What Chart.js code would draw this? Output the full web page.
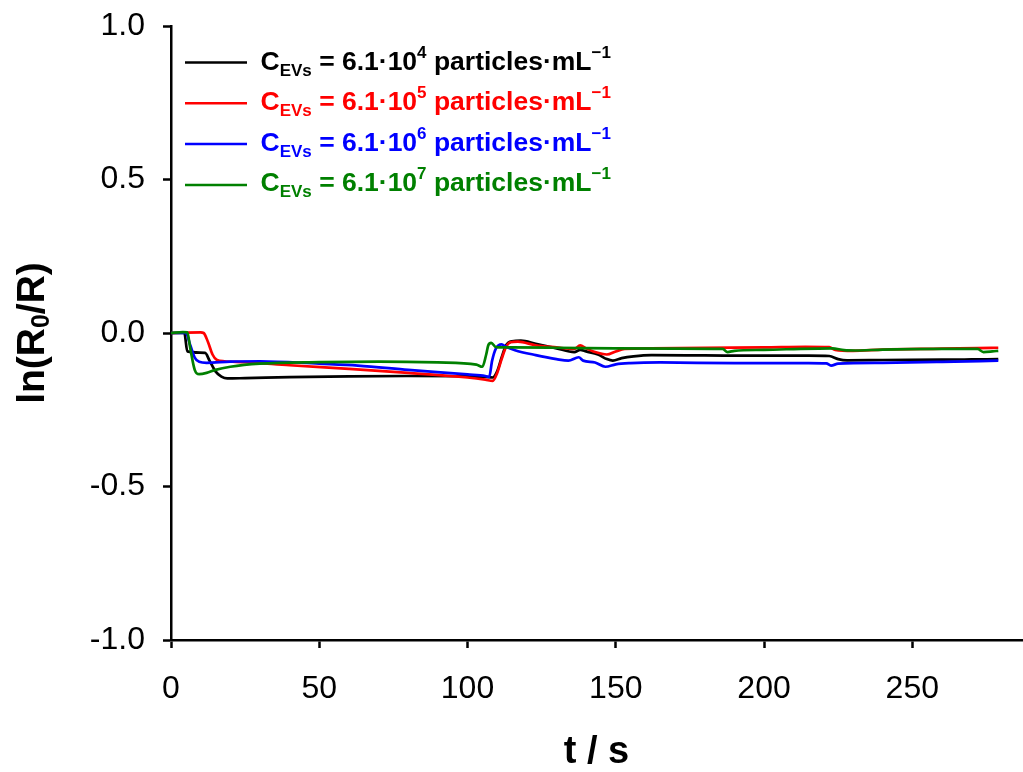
<!DOCTYPE html>
<html>
<head>
<meta charset="utf-8">
<script src="https://cdn.jsdelivr.net/npm/chart.js@4.4.1/dist/chart.umd.min.js"></script>
<style>
  html, body { margin: 0; padding: 0; background: #fff; }
</style>
</head>
<body>
<canvas id="responseChart" width="1023" height="772"></canvas>
<script>
const FONT = '"Liberation Sans", Arial, Helvetica, sans-serif';

// series colours and concentration exponents (6.1·10^n particles/mL)
const seriesColors = ['#000000', '#ff0000', '#0000ff', '#008000'];
const concExponents = ['4', '5', '6', '7'];

const xTicks = [0, 50, 100, 150, 200, 250];
const yTicks = [-1.0, -0.5, 0.0, 0.5, 1.0];

// 10^4
const tBlack = [0, 4.5, 5.5, 11.5, 13, 15, 17, 19, 25, 40, 60, 80, 100, 106, 108.5, 110, 111.5, 113, 115, 118, 123, 130, 136, 138, 140, 144, 147, 149, 152, 156, 162, 180, 200, 215, 222, 225, 228, 240, 260, 270, 279];
const vBlack = [0, 0, -0.06, -0.065, -0.09, -0.125, -0.142, -0.148, -0.147, -0.144, -0.141, -0.140, -0.141, -0.143, -0.145, -0.125, -0.08, -0.04, -0.027, -0.025, -0.035, -0.05, -0.062, -0.055, -0.06, -0.07, -0.085, -0.09, -0.082, -0.076, -0.072, -0.073, -0.074, -0.074, -0.075, -0.085, -0.089, -0.088, -0.087, -0.086, -0.085];

// 10^5
const tRed = [0, 10, 11, 12.5, 14, 15.5, 18, 25, 40, 60, 80, 100, 106, 108.5, 110, 111.5, 113, 114.5, 117, 123, 130, 136, 138, 140, 143, 147, 150, 153, 162, 180, 200, 214, 222, 224, 230, 240, 260, 272, 279];
const vRed = [0, 0.002, 0, -0.03, -0.07, -0.088, -0.092, -0.095, -0.105, -0.117, -0.13, -0.145, -0.152, -0.156, -0.13, -0.085, -0.045, -0.03, -0.028, -0.04, -0.047, -0.052, -0.04, -0.05, -0.062, -0.07, -0.06, -0.052, -0.05, -0.048, -0.047, -0.045, -0.046, -0.055, -0.058, -0.054, -0.051, -0.049, -0.048];

// 10^6
const tBlue = [0, 5, 6.5, 8, 9.5, 12, 20, 30, 50, 63, 80, 100, 106, 107.3, 108.3, 109.6, 111.5, 113, 116, 123, 130, 134, 137.5, 139, 143, 146.5, 150, 155, 165, 190, 215, 221, 222.6, 225, 240, 260, 279];
const vBlue = [0, 0, -0.04, -0.08, -0.094, -0.097, -0.093, -0.092, -0.1, -0.106, -0.12, -0.135, -0.14, -0.143, -0.09, -0.05, -0.037, -0.045, -0.056, -0.072, -0.085, -0.09, -0.079, -0.09, -0.096, -0.11, -0.102, -0.098, -0.096, -0.098, -0.098, -0.099, -0.106, -0.1, -0.097, -0.094, -0.09];

// 10^7
const tGreen = [0, 4, 5.5, 6.5, 8, 9.5, 12, 15, 20, 30, 50, 70, 90, 103, 105, 106.3, 107, 108, 109.6, 115, 130, 150, 170, 186, 187.7, 190, 200, 223, 227, 231, 240, 260, 272, 274, 277, 279];
const vGreen = [0, 0.003, 0.002, -0.05, -0.12, -0.134, -0.13, -0.12, -0.11, -0.1, -0.095, -0.093, -0.096, -0.103, -0.11, -0.07, -0.04, -0.032, -0.046, -0.047, -0.048, -0.05, -0.051, -0.052, -0.062, -0.058, -0.055, -0.05, -0.056, -0.057, -0.054, -0.052, -0.052, -0.062, -0.06, -0.058];

const seriesT = [tBlack, tRed, tBlue, tGreen];
const seriesV = [vBlack, vRed, vBlue, vGreen];

const datasets = seriesT.map((t, i) => ({
  label: 'C_EVs = 6.1·10^' + concExponents[i] + ' particles·mL^−1',
  data: t.map((x, j) => ({ x: x, y: seriesV[i][j] })),
  borderColor: seriesColors[i],
  borderWidth: 2.7,
  pointRadius: 0,
  fill: false,
  cubicInterpolationMode: 'monotone',
  order: 4 - i
}));

// legend with subscript / superscript parts
const legendPlugin = {
  id: 'evLegend',
  afterDraw(chart) {
    const ctx = chart.ctx;
    ctx.save();
    seriesColors.forEach((col, i) => {
      const lineY = 62.5 + i * 40.8;
      const base = 69.5 + i * 40.6;
      ctx.strokeStyle = col;
      ctx.lineWidth = 2.5;
      ctx.beginPath();
      ctx.moveTo(185, lineY);
      ctx.lineTo(247, lineY);
      ctx.stroke();

      const parts = [
        ['C', 26.5, 0],
        ['EVs', 17, 6],
        [' = 6.1·10', 26.5, 0],
        [concExponents[i], 17, -12],
        [' particles·mL', 26.5, 0],
        ['−1', 17, -12]
      ];
      let x = 260.5;
      ctx.fillStyle = col;
      ctx.textBaseline = 'alphabetic';
      ctx.textAlign = 'left';
      parts.forEach(([txt, size, dy]) => {
        ctx.font = 'bold ' + size + 'px ' + FONT;
        ctx.fillText(txt, x, base + dy);
        x += ctx.measureText(txt).width;
      });
    });
    ctx.restore();
  }
};

// y axis title: ln(R0/R) with subscript 0
const yTitlePlugin = {
  id: 'yTitle',
  afterDraw(chart) {
    const ctx = chart.ctx;
    const parts = [['ln(R', 39, 0], ['0', 25, 5], ['/R)', 39, 0]];
    ctx.save();
    let total = 0;
    parts.forEach(([txt, size]) => {
      ctx.font = 'bold ' + size + 'px ' + FONT;
      total += ctx.measureText(txt).width;
    });
    ctx.translate(44, 333 + total / 2);
    ctx.rotate(-Math.PI / 2);
    ctx.fillStyle = '#000';
    ctx.textBaseline = 'alphabetic';
    let x = 0;
    parts.forEach(([txt, size, dy]) => {
      ctx.font = 'bold ' + size + 'px ' + FONT;
      ctx.fillText(txt, x, dy);
      x += ctx.measureText(txt).width;
    });
    ctx.restore();
  }
};

const axisGrid = {
  drawOnChartArea: false,
  drawTicks: true,
  tickLength: 8,
  tickColor: '#000',
  tickWidth: 2.5,
  color: '#000'
};

new Chart(document.getElementById('responseChart').getContext('2d'), {
  type: 'line',
  data: { datasets: datasets },
  options: {
    responsive: false,
    animation: false,
    layout: { padding: { top: 26, right: 1, left: 0, bottom: 0 } },
    plugins: { legend: { display: false }, tooltip: { enabled: false } },
    scales: {
      x: {
        type: 'linear',
        min: 0,
        max: 287,
        border: { color: '#000', width: 2.5 },
        grid: axisGrid,
        afterBuildTicks: s => { s.ticks = xTicks.map(v => ({ value: v })); },
        afterFit: s => { s.height = 132; },
        ticks: {
          color: '#000',
          padding: 22,
          font: { family: FONT, size: 32 },
          maxRotation: 0
        },
        title: {
          display: true,
          text: 't / s',
          color: '#000',
          font: { family: FONT, size: 38, weight: 'bold', lineHeight: 1 },
          padding: { top: 0, bottom: 0 }
        }
      },
      y: {
        min: -1,
        max: 1,
        border: { color: '#000', width: 2.5 },
        grid: axisGrid,
        afterBuildTicks: s => { s.ticks = yTicks.map(v => ({ value: v })); },
        afterFit: s => { s.width = 171; s.paddingTop = 0; s.paddingBottom = 0; },
        ticks: {
          color: '#000',
          padding: 18,
          font: { family: FONT, size: 32 },
          callback: v => v.toFixed(1)
        }
      }
    }
  },
  plugins: [legendPlugin, yTitlePlugin]
});
</script>
</body>
</html>
